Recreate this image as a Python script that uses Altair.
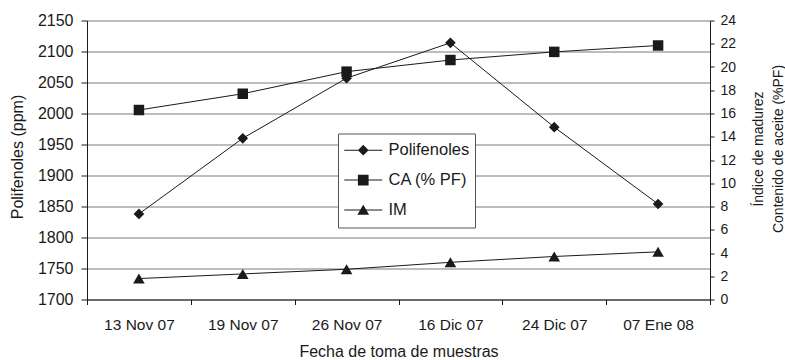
import altair as alt
import pandas as pd

# ---- data ----
fechas = ["13 Nov 07", "19 Nov 07", "26 Nov 07", "16 Dic 07", "24 Dic 07", "07 Ene 08"]
polifenoles = [1838, 1960, 2057, 2114, 1978, 1854]
contenido_aceite = [16.3, 17.7, 19.6, 20.6, 21.3, 21.85]
indice_madurez = [1.8, 2.2, 2.6, 3.2, 3.7, 4.1]
series = ["Polifenoles", "CA (% PF)", "IM"]
left_ticks = list(range(1700, 2151, 50))
right_ticks = list(range(0, 25, 2))

FONT = "Liberation Sans"
INK = "#1a1a1a"
GRID = "#7a7a7a"

df_p = pd.DataFrame({"fecha": fechas, "valor": polifenoles, "serie": series[0]})
df_r = pd.DataFrame({
    "fecha": fechas * 2,
    "valor": contenido_aceite + indice_madurez,
    "serie": [series[1]] * len(fechas) + [series[2]] * len(fechas),
})
df_leg = pd.DataFrame({"serie": series})

x_enc = alt.X(
    "fecha:N", sort=fechas, bandPosition=0.5,
    scale=alt.Scale(type="band", paddingInner=0, paddingOuter=0),
    axis=alt.Axis(title="Fecha de toma de muestras", tickBand="extent", labelAngle=0,
                  tickSize=5, labelPadding=13, labelFontSize=15.5, titleFontSize=16,
                  titleY=44, domainColor=INK, tickColor=INK),
)

y_left = alt.Y(
    "valor:Q",
    scale=alt.Scale(domain=[1700, 2150], nice=False, zero=False),
    axis=alt.Axis(values=left_ticks, format="d", title="Polifenoles (ppm)", grid=True,
                  gridColor=GRID, gridWidth=1, gridOpacity=1, tickSize=6, labelPadding=8,
                  labelFontSize=16, titleFontSize=16, titleX=-70, titleY=136,
                  titleBaseline="middle", titleAngle=270, domainColor=INK, tickColor=INK),
)

y_right = alt.Y(
    "valor:Q",
    scale=alt.Scale(domain=[0, 24], nice=False),
    axis=alt.Axis(orient="right", values=right_ticks, format="d", grid=False,
                  title=["Índice de madurez", "Contenido de aceite (%PF)"],
                  titleAngle=270, titleX=48, titleY=128, titleBaseline="middle",
                  titleLineHeight=20, titleFontSize=14, labelFontSize=14,
                  tickSize=4, labelPadding=6, domainColor=INK, tickColor=INK),
)

line_p = alt.Chart(df_p).mark_line(color=INK, strokeWidth=1).encode(x=x_enc, y=y_left)
pts_p = alt.Chart(df_p).mark_point(shape="diamond", filled=True, size=114, color=INK,
                                   opacity=1).encode(x=x_enc, y=y_left)

line_r = alt.Chart(df_r).mark_line(color=INK, strokeWidth=1).encode(
    x=x_enc, y=y_right, detail="serie:N")
pts_ca = alt.Chart(df_r).transform_filter(alt.datum.serie == series[1]).mark_point(
    shape="square", filled=True, size=110, color=INK, opacity=1).encode(x=x_enc, y=y_right)
pts_im = alt.Chart(df_r).transform_filter(alt.datum.serie == series[2]).mark_point(
    shape="triangle-up", filled=True, size=135, color=INK, opacity=1).encode(x=x_enc, y=y_right)

# legend symbols: marker plus a thin connecting bar (fill only)
BAR = "M-3.56,-0.095H3.56V0.095H-3.56Z"
legend_paths = [
    BAR + "M0,-1L1,0L0,1L-1,0Z",
    BAR + "M-1,-1H1V1H-1Z",
    BAR + "M0,-1L1.1,0.9H-1.1Z",
]
leg = alt.Chart(df_leg).mark_point(filled=True, size=114, fill=INK,
                                   opacity=0).encode(
    shape=alt.Shape(
        "serie:N", sort=series,
        scale=alt.Scale(domain=series, range=legend_paths),
        legend=alt.Legend(
            title=None, orient="none", legendX=251, legendY=113,
            strokeColor="#555555", fillColor="white", padding=5,
            symbolSize=114, symbolOffset=12, labelOffset=17,
            clipHeight=23.4, rowPadding=5.9,
            symbolFillColor=INK, symbolStrokeWidth=0,
            symbolOpacity=1, labelFontSize=16.5, labelFont=FONT, labelColor=INK,
        ),
    )
)

left = alt.layer(line_p, pts_p)
right = alt.layer(line_r, pts_ca, pts_im)

chart = (
    alt.layer(left, right, leg)
    .resolve_scale(y="independent", shape="independent")
    .properties(
        width=623, height=279,
        padding={"left": 87, "top": 20.5, "right": 75, "bottom": 60.5},
        autosize=alt.AutoSizeParams(type="none"),
        background="white",
    )
    .configure_view(stroke=None)
    .configure_axis(labelFont=FONT, titleFont=FONT, labelColor=INK, titleColor=INK,
                    titleFontWeight="normal")
)

chart.save("out.html", embed_options={"renderer": "svg", "actions": False})
